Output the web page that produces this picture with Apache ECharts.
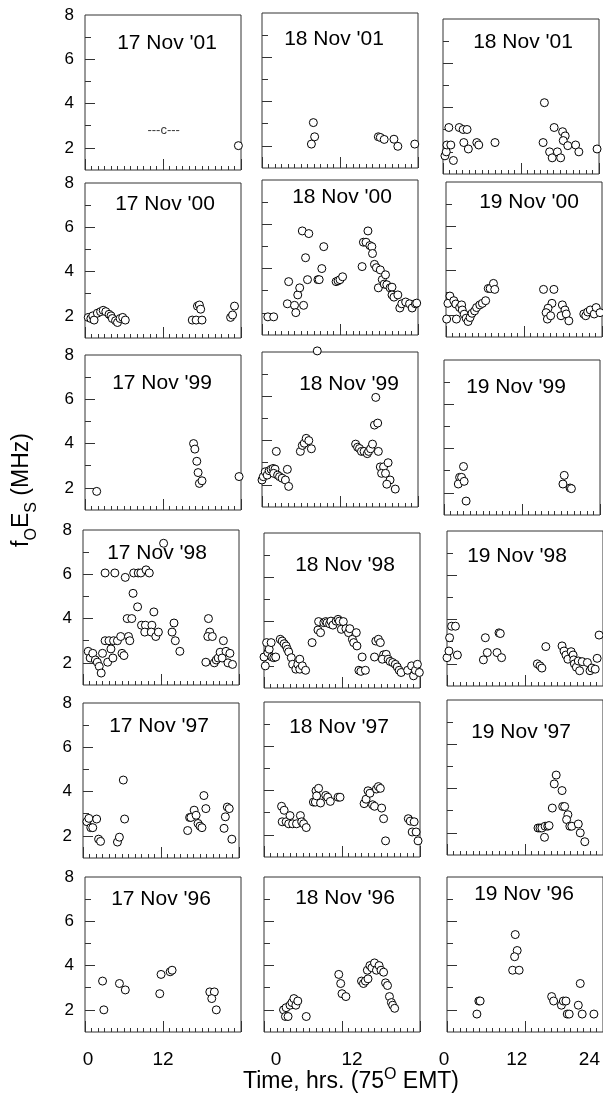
<!DOCTYPE html>
<html><head><meta charset="utf-8">
<script src="https://cdn.jsdelivr.net/npm/echarts@6/dist/echarts.min.js"></script>
<style>html,body{margin:0;padding:0;background:#fff}#c{width:603px;height:1095px}</style>
</head><body><div id="c"></div>
<script>
// ---------------- DATA (hours, MHz) ----------------
const d17Nov01 = [[23.6,2.1]];
const d18Nov01 = [[7.9,3.05],[8.1,2.41],[7.6,2.08],[17.9,2.41],[18.2,2.38],[18.8,2.29],[20.3,2.3],[20.9,1.98],[23.5,2.08]];
const d18Nov01b = [[0.3,1.82],[0.5,2.0],[0.6,2.31],[1.2,2.31],[0.9,3.1],[1.6,1.61],[2.5,3.1],[3.1,3.01],[3.7,3.01],[3.2,2.42],[3.9,2.13],[5.2,2.42],[5.5,2.31],[8.0,2.42],[15.6,4.22],[15.4,2.42],[17.1,3.1],[16.4,2.0],[16.8,1.73],[17.6,2.0],[18.1,1.73],[18.4,2.91],[18.8,2.72],[18.5,2.51],[19.2,2.28],[20.4,2.31],[20.9,2.0],[23.7,2.13]];

const d17Nov00 = [[0.5,1.93],[0.9,1.88],[1.2,2.0],[1.4,1.81],[1.9,2.12],[2.4,2.19],[2.8,2.25],[3.2,2.19],[3.7,2.07],[4.0,2.0],[4.2,1.88],[4.7,1.78],[5.0,1.7],[5.4,1.88],[5.8,1.93],[6.2,1.81],[16.5,1.81],[17.1,1.81],[18.0,1.81],[17.3,2.44],[17.6,2.49],[17.8,2.3],[22.4,1.93],[22.7,2.04],[23.0,2.44]];
const d18Nov00 = [[0.9,1.82],[1.8,1.82],[3.9,2.41],[4.1,3.41],[5.0,2.34],[5.2,2.01],[5.5,2.81],[5.8,3.13],[6.4,2.34],[6.2,5.7],[7.2,5.58],[6.7,4.49],[7.0,3.5],[8.6,3.5],[8.8,3.5],[9.2,4.0],[9.5,4.99],[11.4,3.41],[11.7,3.45],[12.0,3.5],[12.4,3.63],[15.4,4.09],[15.6,5.19],[16.0,5.19],[16.3,5.7],[16.6,5.04],[16.9,4.99],[17.0,4.68],[17.3,4.19],[17.6,4.04],[18.2,3.94],[17.9,3.13],[18.5,3.5],[19.0,3.72],[18.8,3.3],[19.2,3.27],[19.7,3.13],[20.0,3.16],[20.0,2.81],[20.3,2.71],[20.9,2.81],[21.2,2.22],[21.5,2.41],[22.1,2.49],[22.7,2.41],[23.1,2.22],[23.6,2.41],[23.8,2.44]];
const d19Nov00 = [[0.1,1.81],[0.3,2.52],[0.6,2.85],[1.2,2.64],[1.5,2.49],[1.6,1.81],[2.1,2.33],[2.4,2.45],[2.5,2.22],[2.8,2.03],[3.1,1.85],[3.4,1.7],[3.7,1.88],[4.0,2.07],[4.4,2.18],[4.7,2.33],[5.2,2.45],[5.6,2.52],[6.1,2.64],[6.5,3.19],[6.8,3.19],[7.3,3.42],[7.5,3.15],[15.0,3.15],[16.6,3.15],[16.3,2.52],[15.7,2.3],[15.4,2.1],[15.6,1.81],[16.1,1.96],[17.9,2.45],[18.3,2.22],[17.7,1.96],[18.5,2.04],[18.9,1.73],[21.2,2.04],[21.5,1.96],[21.8,2.13],[22.2,2.22],[22.8,2.04],[23.1,2.33],[23.7,2.1]];

const d17Nov99 = [[1.8,1.84],[16.7,4.0],[16.9,3.75],[17.2,3.2],[17.4,2.69],[17.6,2.2],[18.0,2.32],[23.7,2.51]];
const d18Nov99 = [[8.5,8.05],[17.5,5.95],[0.0,2.22],[0.2,2.37],[0.5,2.59],[0.8,2.44],[1.1,2.64],[1.4,2.7],[1.7,2.74],[2.0,2.71],[1.8,2.52],[2.2,3.51],[2.4,2.44],[2.7,2.37],[3.1,2.3],[3.6,2.22],[3.9,2.7],[4.1,1.93],[5.9,3.51],[6.2,3.78],[6.5,3.88],[6.8,4.1],[7.2,4.0],[7.6,3.63],[14.4,3.84],[14.7,3.7],[15.0,3.64],[15.3,3.51],[15.7,3.51],[16.2,3.41],[16.4,3.51],[16.7,3.63],[17.0,3.84],[17.3,4.7],[17.8,4.79],[17.9,3.51],[18.2,2.81],[18.7,2.81],[19.4,3.0],[18.4,2.52],[19.0,2.52],[19.7,2.22],[19.2,2.03],[20.5,1.81]];
const d19Nov99 = [[3.0,3.19],[2.4,2.7],[2.7,2.7],[2.2,2.4],[3.1,2.52],[3.4,1.63],[18.5,2.79],[18.3,2.4],[19.4,2.22],[19.6,2.19]];

const d17Nov98 = [[12.4,7.4],[3.4,6.06],[4.9,6.06],[6.5,5.86],[7.8,6.06],[8.5,6.06],[8.9,6.06],[9.7,6.2],[10.2,6.06],[7.7,5.14],[8.4,4.53],[6.8,4.0],[7.5,4.0],[10.9,4.3],[9.0,3.7],[9.6,3.7],[10.6,3.7],[9.5,3.39],[10.5,3.39],[11.2,3.19],[11.6,3.39],[14.0,3.8],[13.7,3.39],[14.2,3.0],[19.3,4.0],[19.5,3.39],[19.2,3.19],[19.9,3.19],[21.6,3.0],[3.4,3.0],[4.0,3.0],[4.7,3.0],[5.3,3.0],[5.8,3.19],[7.0,3.19],[7.2,3.0],[0.8,2.52],[1.1,2.22],[1.5,2.43],[1.9,2.13],[2.2,2.03],[2.5,1.84],[2.8,1.54],[3.0,2.43],[3.8,2.03],[4.3,2.63],[4.6,2.22],[6.0,2.43],[6.3,2.33],[14.9,2.52],[18.9,2.03],[20.2,2.0],[20.5,2.13],[20.8,2.22],[21.1,2.48],[21.4,2.22],[22.0,2.52],[22.6,2.43],[22.3,2.0],[23.0,1.93]];
const d18Nov98 = [[0.0,2.4],[0.2,2.0],[0.4,3.05],[0.6,2.6],[0.8,2.75],[1.1,3.05],[1.2,2.4],[1.5,2.37],[1.8,2.4],[2.5,3.2],[2.8,3.12],[3.1,3.0],[3.4,2.9],[3.6,2.75],[3.8,2.63],[4.2,2.37],[4.4,2.07],[4.9,1.85],[5.2,2.07],[5.5,2.3],[5.5,1.85],[5.9,2.0],[6.4,1.8],[7.4,3.05],[8.3,3.62],[8.7,3.5],[8.4,4.0],[9.2,3.95],[9.5,4.0],[9.7,3.95],[10.1,3.9],[10.3,4.02],[10.6,3.84],[11.1,4.02],[11.4,4.1],[11.6,4.02],[11.9,3.65],[12.2,4.0],[12.6,3.68],[13.0,3.5],[13.2,3.68],[13.6,3.2],[13.8,3.05],[14.2,3.5],[14.3,2.9],[15.1,2.4],[14.6,1.8],[14.9,1.75],[15.6,1.8],[17.0,2.4],[17.2,3.12],[17.6,3.2],[17.9,3.05],[18.4,2.5],[18.8,2.52],[18.2,2.3],[19.1,2.3],[19.4,2.2],[19.8,2.15],[20.2,2.07],[20.5,1.95],[20.8,1.8],[21.1,1.7],[22.1,1.8],[22.7,2.0],[23.0,1.55],[23.3,1.8],[23.6,2.07],[23.9,1.7]];
const d19Nov98 = [[0.0,2.28],[0.3,2.58],[0.4,3.18],[0.7,3.7],[1.3,3.7],[1.6,2.4],[5.6,2.18],[5.9,3.18],[6.2,2.51],[7.7,2.51],[8.0,3.4],[8.2,3.37],[8.4,2.28],[13.9,2.0],[14.3,1.91],[14.6,1.81],[15.2,2.78],[17.7,2.81],[18.0,2.58],[18.3,2.4],[18.6,2.21],[19.1,2.55],[19.4,2.4],[19.5,2.18],[19.6,2.0],[19.9,1.85],[20.4,1.69],[20.2,2.13],[20.8,2.1],[21.6,2.06],[22.0,1.69],[22.3,1.81],[22.8,1.76],[23.1,2.25],[23.4,3.3]];

const d17Nov97 = [[0.6,2.64],[0.9,2.79],[1.2,2.37],[1.5,2.37],[2.1,2.76],[2.4,1.85],[2.7,1.75],[6.2,4.52],[6.4,2.76],[5.3,1.72],[5.6,1.94],[16.1,2.24],[16.4,2.83],[16.6,2.83],[17.1,3.16],[17.4,2.93],[17.7,2.56],[18.0,2.44],[18.3,2.37],[18.6,3.82],[18.9,3.23],[21.7,2.34],[21.9,2.86],[22.2,3.3],[22.5,3.23],[22.9,1.85]];
const d18Nov97 = [[2.7,3.29],[3.1,3.11],[2.8,2.59],[3.4,2.59],[4.0,2.87],[3.8,2.5],[4.4,2.5],[5.0,2.5],[5.6,2.87],[5.8,2.59],[6.1,2.5],[6.5,2.33],[7.6,3.48],[7.9,3.48],[8.0,3.99],[8.4,4.1],[8.1,3.76],[8.7,3.44],[9.5,3.78],[9.8,3.7],[10.2,3.51],[11.4,3.7],[11.7,3.7],[15.4,3.41],[15.7,3.61],[16.0,3.99],[16.3,3.88],[16.7,3.36],[17.0,3.29],[17.3,4.07],[17.6,4.18],[17.9,4.1],[18.1,3.21],[18.4,2.73],[18.7,1.73],[22.2,2.73],[22.5,2.62],[23.1,2.59],[22.8,2.13],[23.4,2.13],[23.7,1.73]];
const d19Nov97 = [[16.8,4.61],[16.5,4.21],[17.7,3.91],[16.2,3.12],[17.8,3.19],[18.1,3.19],[18.6,2.82],[18.4,2.6],[18.9,2.3],[19.2,2.3],[20.2,2.4],[20.5,2.0],[21.2,1.6],[14.0,2.22],[14.3,2.22],[14.6,2.22],[15.1,2.3],[15.5,2.3],[15.7,2.33],[15.0,1.8]];

const d17Nov96 = [[2.7,3.3],[2.9,2.0],[5.3,3.19],[6.2,2.9],[11.5,2.73],[11.7,3.6],[13.1,3.72],[13.4,3.79],[19.2,2.81],[19.9,2.81],[19.5,2.51],[20.2,2.0]];
const d18Nov96 = [[3.0,2.0],[3.3,1.7],[3.7,1.7],[3.4,2.1],[4.0,2.21],[4.3,2.33],[4.6,2.51],[4.9,2.21],[5.2,2.4],[6.5,1.7],[11.5,3.6],[11.8,3.19],[12.0,2.73],[12.6,2.6],[15.0,3.3],[15.3,3.19],[15.6,3.3],[16.0,3.4],[15.9,3.79],[16.3,4.0],[16.6,3.9],[17.0,4.12],[17.3,3.79],[17.7,4.0],[18.0,3.79],[18.4,3.7],[18.7,3.22],[19.0,3.1],[19.3,2.6],[19.6,2.33],[19.8,2.21],[20.1,2.07]];
const d19Nov96 = [[10.5,5.4],[10.8,4.68],[10.4,4.4],[10.1,3.79],[11.1,3.79],[4.6,1.81],[4.9,2.4],[5.1,2.4],[16.1,2.6],[16.4,2.4],[17.6,2.21],[17.9,2.4],[18.3,2.4],[18.5,1.81],[18.8,1.81],[20.2,2.21],[20.5,3.19],[20.8,1.81],[22.6,1.81]];

const noteText = '---c---';
const noteAt = [[12.1, 2.8]];

const panelTitles = [
  ["17 Nov '01", "18 Nov '01", "18 Nov '01"],
  ["17 Nov '00", "18 Nov '00", "19 Nov '00"],
  ["17 Nov '99", "18 Nov '99", "19 Nov '99"],
  ["17 Nov '98", "18 Nov '98", "19 Nov '98"],
  ["17 Nov '97", "18 Nov '97", "19 Nov '97"],
  ["17 Nov '96", "18 Nov '96", "19 Nov '96"]
];
const panelData = [
  [d17Nov01, d18Nov01, d18Nov01b],
  [d17Nov00, d18Nov00, d19Nov00],
  [d17Nov99, d18Nov99, d19Nov99],
  [d17Nov98, d18Nov98, d19Nov98],
  [d17Nov97, d18Nov97, d19Nov97],
  [d17Nov96, d18Nov96, d19Nov96]
];
const yTickLabels = [2, 4, 6, 8];
const yMajorTicks = [2, 4, 6];
const yMinorTicks = [3, 5, 7];
const xTickLabels = [[0, 12], [0, 12], [0, 12, 24]];
const xTitle = '{a|Time, hrs. (75}{sup|O}{a| EMT)}';
const yTitle = '{a|f}{sub|O}{a|E}{sub|S}{a| (MHz)}';

// ---------------- LAYOUT ----------------
const boxes = [
  [[85, 15], [262, 13], [443, 19]],
  [[85, 183], [262, 180], [446, 182]],
  [[85, 355], [262, 352], [444, 360]],
  [[83, 530], [264, 533], [447, 531]],
  [[83, 703], [264, 702], [447, 700]],
  [[85, 877], [264, 877], [447, 877]]
];
const boxW = 156, boxH = 155;
const titlePos = [
  [[167, 43], [334, 39], [523, 42]],
  [[165, 204], [342, 197], [529, 202]],
  [[162, 383], [349, 384], [516, 387]],
  [[157, 553], [345, 565], [517, 556]],
  [[159, 726], [339, 727], [521, 732]],
  [[161, 899], [345, 898], [524, 894]]
];
const labelAxisBoxes = [[88, 150], [276, 152], [444, 146]];

const FONT = "'Liberation Sans', Arial, Helvetica, sans-serif";
const INK = '#000', LINE = '#333';

const grids = [], xAxes = [], yAxes = [], series = [], graphics = [];
panelData.forEach((row, r) => row.forEach((data, c) => {
  const g = r * 3 + c;
  const [left, top] = boxes[r][c];
  grids.push({left, top, width: boxW, height: boxH, show: true, borderColor: LINE, borderWidth: 1, backgroundColor: 'transparent'});
  xAxes.push({
    gridIndex: g, type: 'value', min: 0, max: 24, interval: 12,
    axisLine: {show: false},
    axisTick: {show: true, inside: true, length: 11, lineStyle: {color: LINE}},
    minorTick: {show: true, splitNumber: 12, length: 4, lineStyle: {color: LINE}},
    axisLabel: {show: false}, splitLine: {show: false}, minorSplitLine: {show: false}
  });
  yAxes.push({
    gridIndex: g, type: 'value', min: 1, max: 8, interval: 1, position: 'left',
    axisLine: {show: false},
    axisTick: {show: true, inside: true, length: 10, customValues: yMajorTicks, lineStyle: {color: LINE}},
    axisLabel: {show: c === 0, customValues: yTickLabels, fontSize: 17, color: INK, fontFamily: FONT, margin: 11},
    splitLine: {show: false}
  });
  yAxes.push({
    gridIndex: g, type: 'value', min: 1, max: 8, interval: 1, position: 'left', offset: 0,
    axisLine: {show: false},
    axisTick: {show: true, inside: true, length: 6, customValues: yMinorTicks, lineStyle: {color: LINE}},
    axisLabel: {show: false}, splitLine: {show: false}
  });
  series.push({
    type: 'scatter', xAxisIndex: g, yAxisIndex: 2 * g, data,
    symbol: 'circle', symbolSize: 8, clip: false, silent: true,
    itemStyle: {color: '#fff', borderColor: INK, borderWidth: 1, opacity: 1}
  });
  graphics.push({
    type: 'text', x: titlePos[r][c][0], y: titlePos[r][c][1], z: 10,
    style: {text: panelTitles[r][c], font: `21px ${FONT}`, fill: INK, align: 'center', verticalAlign: 'middle'}
  });
}));

// note "---c---" in first panel
series.push({
  type: 'scatter', xAxisIndex: 0, yAxisIndex: 0, data: noteAt, symbolSize: 1,
  itemStyle: {color: 'transparent'}, silent: true,
  label: {show: true, position: 'inside', formatter: noteText, fontSize: 13, color: INK, fontFamily: FONT}
});

// bottom tick-label axes
labelAxisBoxes.forEach(([left, width], c) => {
  const g = grids.length;
  grids.push({left, width, top: 1031, height: 2, show: false});
  xAxes.push({
    gridIndex: g, type: 'value', min: 0, max: 24, interval: 12,
    axisLine: {show: false}, axisTick: {show: false}, splitLine: {show: false},
    axisLabel: {show: true, fontSize: 19, color: INK, fontFamily: FONT, margin: 17, showMinLabel: true, showMaxLabel: true,
      formatter: v => xTickLabels[c].includes(v) ? String(v) : ''}
  });
  yAxes.push({gridIndex: g, type: 'value', show: false, min: 0, max: 1});
});

graphics.push({
  type: 'text', x: 351, y: 1080, z: 10,
  style: {text: xTitle, align: 'center', verticalAlign: 'middle',
    rich: {a: {fontSize: 23, fontFamily: FONT, fill: INK, lineHeight: 27, verticalAlign: 'bottom'},
           sup: {fontSize: 16, fontFamily: FONT, fill: INK, lineHeight: 27, verticalAlign: 'top'}}}
});
graphics.push({
  type: 'text', x: 25, y: 490, rotation: Math.PI / 2, z: 10,
  style: {text: yTitle, align: 'center', verticalAlign: 'middle',
    rich: {a: {fontSize: 23, fontFamily: FONT, fill: INK, lineHeight: 29, verticalAlign: 'top'},
           sub: {fontSize: 16, fontFamily: FONT, fill: INK, lineHeight: 29, verticalAlign: 'bottom'}}}
});

const chart = echarts.init(document.getElementById('c'), null, {renderer: 'canvas'});
chart.setOption({
  animation: false, backgroundColor: '#fff',
  grid: grids, xAxis: xAxes, yAxis: yAxes, series, graphic: graphics
});
</script></body></html>
